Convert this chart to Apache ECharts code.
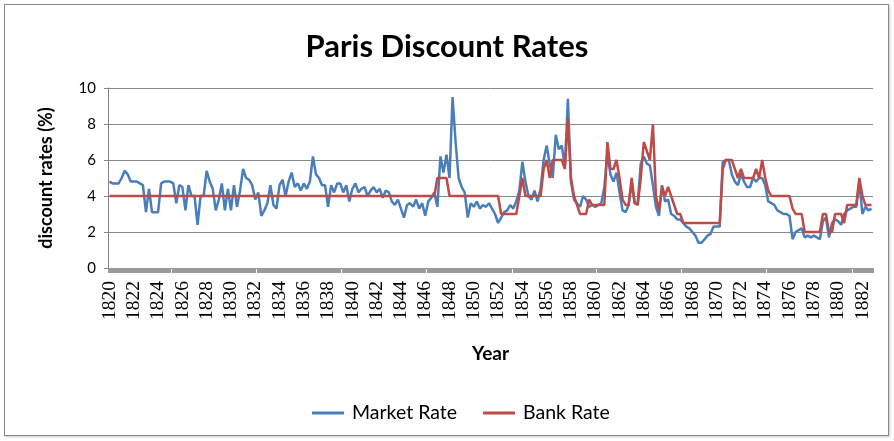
<!DOCTYPE html>
<html><head><meta charset="utf-8">
<script src="https://cdn.jsdelivr.net/npm/echarts@6/dist/echarts.min.js"></script>
<style>
html,body{margin:0;padding:0;background:#fff;}
#frame{position:absolute;left:4px;top:4px;width:883px;height:430px;border:1px solid #8a8a8a;box-shadow:1px 1px 2px #c8c8c8;}
#chart{position:absolute;left:0;top:0;width:894px;height:441px;}
</style></head><body>
<div id="frame"></div>
<div id="chart"></div>
<script>
// quarterly observations, 1820 Q1 .. 1882 Q4
const startYear = 1820;
const endYear = 1882;
const perYear = 4;
const yTicks = [0, 2, 4, 6, 8, 10];

const marketRate = [
  4.8,4.7,4.7,4.7, 5.0,5.4,5.2,4.8, 4.8,4.8,4.7,4.6, 3.1,4.4,3.1,3.1, 3.1,4.7,4.8,4.8, // 1820-24
  4.8,4.7,3.6,4.6, 4.5,3.2,4.6,4.0, 4.0,2.4,4.0,4.0, 5.4,4.8,4.4,3.2, 3.8,4.7,3.2,4.4, // 1825-29
  3.2,4.6,3.4,4.3, 5.5,5.0,4.9,4.6, 3.8,4.2,2.9,3.2, 3.6,4.6,3.5,3.3, 4.6,4.9,4.0,4.8, // 1830-34
  5.3,4.5,4.7,4.3, 4.7,4.4,4.8,6.2, 5.2,5.0,4.6,4.6, 3.4,4.6,4.2,4.7, 4.7,4.2,4.6,3.7, // 1835-39
  4.4,4.7,4.2,4.4, 4.5,4.0,4.3,4.5, 4.2,4.4,3.9,4.3, 4.2,3.7,3.5,3.8, 3.3,2.8,3.5,3.6, // 1840-44
  3.4,3.8,3.3,3.6, 2.9,3.7,3.9,4.2, 3.4,6.2,5.3,6.3, 5.0,9.5,7.0,5.0, 4.5,4.2,2.8,3.6, // 1845-49
  3.4,3.7,3.3,3.5, 3.4,3.6,3.3,3.0, 2.5,2.8,3.1,3.2, 3.5,3.3,3.7,4.3, 5.9,4.8,4.0,3.8, // 1850-54
  4.3,3.7,4.4,6.0, 6.8,5.8,5.0,7.4, 6.6,6.8,5.6,9.4, 4.8,3.8,3.6,3.4, 4.0,3.8,3.4,3.5, // 1855-59
  3.4,3.5,3.6,4.5, 6.4,5.2,4.8,5.3, 4.2,3.2,3.1,3.5, 4.7,3.6,3.6,5.8, 6.2,5.8,5.7,4.6, // 1860-64
  3.4,2.9,4.6,3.7, 3.8,3.0,2.9,2.7, 2.7,2.5,2.3,2.2, 2.0,1.8,1.4,1.4, 1.6,1.8,1.9,2.3, // 1865-69
  2.3,2.3,5.9,6.0, 6.0,5.2,4.8,4.6, 5.2,4.8,4.5,4.5, 5.0,4.8,5.0,5.0, 4.6,3.7,3.6,3.5, // 1870-74
  3.2,3.1,3.0,3.0, 2.9,1.6,2.0,2.1, 2.2,1.7,1.8,1.7, 1.8,1.7,1.6,2.6, 2.8,1.7,2.5,2.7, // 1875-79
  2.6,2.4,3.0,3.2, 3.3,3.4,3.4,4.8, 3.0,3.4,3.2,3.3                                    // 1880-82
];

const bankRate = [
  4,4,4,4, 4,4,4,4, 4,4,4,4, 4,4,4,4, 4,4,4,4,                 // 1820-24
  4,4,4,4, 4,4,4,4, 4,4,4,4, 4,4,4,4, 4,4,4,4,                 // 1825-29
  4,4,4,4, 4,4,4,4, 4,4,4,4, 4,4,4,4, 4,4,4,4,                 // 1830-34
  4,4,4,4, 4,4,4,4, 4,4,4,4, 4,4,4,4, 4,4,4,4,                 // 1835-39
  4,4,4,4, 4,4,4,4, 4,4,4,4, 4,4,4,4, 4,4,4,4,                 // 1840-44
  4,4,4,4, 4,4,4,4, 5,5,5,5, 4,4,4,4, 4,4,4,4,                 // 1845-49
  4,4,4,4, 4,4,4,4, 4,3,3,3, 3,3,3,4, 5,4,4,4,                 // 1850-54
  4,4,4,5.5, 6,5,6,6, 6,6,5.5,8.3, 5,4,3.5,3, 3,3,3.8,3.5,     // 1855-59
  3.5,3.5,3.5,3.5, 7,5.5,5.5,6, 5,3.8,3.5,3.5, 5,3.6,3.5,5, 7,6.5,6,8, // 1860-64
  4,3.2,4.5,4, 4.5,4,3.5,3, 3,2.5,2.5,2.5, 2.5,2.5,2.5,2.5, 2.5,2.5,2.5,2.5, // 1865-69
  2.5,2.5,5.5,6, 6,6,5.5,5, 5.5,5,5,5, 5,5.5,5,6, 5,4.3,4,4,   // 1870-74
  4,4,4,4, 4,3.3,3,3, 3,2,2,2, 2,2,2,3, 3,2,2,3,               // 1875-79
  3,3,2.5,3.5, 3.5,3.5,3.5,5, 4,3.5,3.5,3.5                     // 1880-82
];

const quarters = [];
for (let y = startYear; y <= endYear; y++) for (let q = 0; q < perYear; q++) quarters.push(String(y));
const months = [];
for (let y = startYear; y <= endYear; y++) for (let m = 0; m < 12; m++) months.push('');

const chart = echarts.init(document.getElementById('chart'), null, {renderer: 'canvas'});
const fontUI = 'Lato, "Open Sans", sans-serif';
chart.setOption({
  animation: false,
  backgroundColor: 'transparent',
  title: {
    text: 'Paris Discount Rates', left: 'center', top: 26,
    textStyle: {fontFamily: fontUI, fontSize: 31, fontWeight: 'bold', color: '#000'}
  },
  legend: {
    top: 398, left: 307, icon: 'rect', itemWidth: 32, itemHeight: 3, itemGap: 26,
    textStyle: {fontFamily: fontUI, fontSize: 19.5, color: '#000', padding: [0, 0, 0, 3]},
    data: ['Market Rate', 'Bank Rate']
  },
  grid: {left: 108, right: 21, top: 88, bottom: 173, containLabel: false},
  xAxis: [{
    type: 'category', data: quarters, boundaryGap: true,
    name: 'Year', nameLocation: 'middle', nameGap: 76,
    nameTextStyle: {fontFamily: fontUI, fontSize: 19, fontWeight: 'bold', color: '#000'},
    axisLine: {show: true, lineStyle: {color: '#868686', width: 1}},
    axisTick: {show: false},
    axisLabel: {interval: perYear * 2 - 1, rotate: 90, margin: 13, fontFamily: '"Liberation Serif", serif', fontSize: 19.5, color: '#000'}
  }, {
    type: 'category', data: months, boundaryGap: true, position: 'bottom',
    axisLine: {show: false}, axisLabel: {show: false},
    axisTick: {show: true, interval: 0, length: 5, lineStyle: {color: '#9a9a9a', width: 1}}
  }],
  yAxis: {
    type: 'value', min: yTicks[0], max: yTicks[yTicks.length - 1], interval: 2,
    name: 'discount rates (%)', nameLocation: 'middle', nameGap: 53, nameRotate: 90,
    nameTextStyle: {fontFamily: fontUI, fontSize: 18, fontWeight: 'bold', color: '#000'},
    axisLine: {show: true, lineStyle: {color: '#868686'}},
    axisTick: {show: true, length: 4, lineStyle: {color: '#868686'}},
    axisLabel: {margin: 12, fontFamily: fontUI, fontSize: 15, color: '#000'},
    splitLine: {show: true, lineStyle: {color: '#8a8a8a', width: 1}}
  },
  series: [{
    name: 'Market Rate', type: 'line', data: marketRate, xAxisIndex: 0,
    symbol: 'none', lineStyle: {color: '#4a7ebb', width: 2.5}, itemStyle: {color: '#4a7ebb'}
  }, {
    name: 'Bank Rate', type: 'line', data: bankRate, xAxisIndex: 0,
    symbol: 'none', lineStyle: {color: '#be4b48', width: 2.5}, itemStyle: {color: '#be4b48'}
  }]
});
</script></body></html>
